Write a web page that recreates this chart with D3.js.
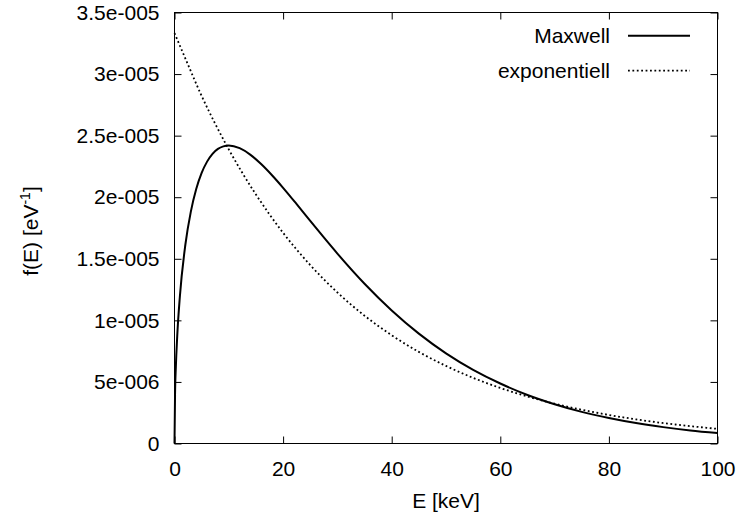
<!DOCTYPE html>
<html><head><meta charset="utf-8">
<script src="https://cdn.jsdelivr.net/npm/d3@7"></script>
<style>
body{margin:0;background:#fff;}
text{font-family:"Liberation Sans",Arial,Helvetica,sans-serif;}
</style>
</head><body>
<svg id="chart" width="736" height="517"></svg>
<script>
// Energy (keV) samples
const maxwellE = [0,0.1,0.25,0.5,1,2,3,4,5,6,7,8,9,10,12,14,16,18,20,22.5,25,27.5,30,35,40,45,50,55,60,65,70,75,80,85,90,95,100];
const maxwellF = [0,0.397e-5,0.623e-5,0.870e-5,1.200e-5,1.614e-5,1.881e-5,2.066e-5,2.197e-5,2.289e-5,2.352e-5,2.392e-5,2.413e-5,2.420e-5,2.398e-5,2.344e-5,2.267e-5,2.176e-5,2.076e-5,1.943e-5,1.807e-5,1.673e-5,1.542e-5,1.297e-5,1.080e-5,0.892e-5,0.732e-5,0.598e-5,0.487e-5,0.394e-5,0.319e-5,0.257e-5,0.207e-5,0.166e-5,0.133e-5,0.106e-5,0.085e-5];
// Energy (keV) samples
const expE = [0,2.5,5,7.5,10,12.5,15,20,25,30,35,40,45,50,55,60,65,70,75,80,85,90,95,100];
const expF = [3.333e-5,3.075e-5,2.822e-5,2.596e-5,2.388e-5,2.197e-5,2.022e-5,1.711e-5,1.449e-5,1.226e-5,1.038e-5,0.879e-5,0.744e-5,0.630e-5,0.533e-5,0.451e-5,0.382e-5,0.323e-5,0.274e-5,0.232e-5,0.196e-5,0.166e-5,0.141e-5,0.119e-5];

const xTickValues = [0,20,40,60,80,100];
const yTickValues = [0,5e-6,1e-5,1.5e-5,2e-5,2.5e-5,3e-5,3.5e-5];
const yTickLabels = ["0","5e-006","1e-005","1.5e-005","2e-005","2.5e-005","3e-005","3.5e-005"];
const seriesNames = ["Maxwell","exponentiell"];

const L = 174.5, R = 717.5, T = 12.5, B = 443.5;
const svg = d3.select("#chart");
const x = d3.scaleLinear().domain([0,100]).range([L,R]);
const y = d3.scaleLinear().domain([0,3.5e-5]).range([B,T]);

const fs = 21;
function styleAxis(g){
  g.select(".domain").remove();
  g.selectAll(".tick line").attr("stroke","#000").attr("stroke-width",1);
  g.selectAll("text").attr("font-size",fs).attr("fill","#000").attr("font-family","Liberation Sans, Arial, sans-serif");
}
svg.append("g").attr("transform",`translate(0,${B})`)
  .call(d3.axisBottom(x).tickValues(xTickValues).tickSizeInner(-7).tickSizeOuter(0).tickPadding(18).tickFormat(d3.format("d")))
  .call(styleAxis);
svg.append("g").attr("transform",`translate(0,${T})`)
  .call(d3.axisTop(x).tickValues(xTickValues).tickSizeInner(-7).tickSizeOuter(0).tickFormat(""))
  .call(styleAxis);
svg.append("g").attr("transform",`translate(${L},0)`)
  .call(d3.axisLeft(y).tickValues(yTickValues).tickSizeInner(-7).tickSizeOuter(0).tickPadding(15).tickFormat((d,i)=>yTickLabels[i]))
  .call(styleAxis);
svg.append("g").attr("transform",`translate(${R},0)`)
  .call(d3.axisRight(y).tickValues(yTickValues).tickSizeInner(-7).tickSizeOuter(0).tickFormat(""))
  .call(styleAxis);

svg.append("rect").attr("x",L).attr("y",T).attr("width",R-L).attr("height",B-T)
  .attr("fill","none").attr("stroke","#000").attr("stroke-width",1);

const line = d3.line().x(d=>x(d[0])).y(d=>y(d[1])).curve(d3.curveMonotoneX);
const mData = maxwellE.map((e,i)=>[e,maxwellF[i]]);
const eData = expE.map((e,i)=>[e,expF[i]]);

svg.append("path").datum(eData).attr("d",line).attr("fill","none")
  .attr("stroke","#000").attr("stroke-width",1.8).attr("stroke-dasharray","1.8,2.6");
svg.append("path").datum(mData).attr("d",line).attr("fill","none")
  .attr("stroke","#000").attr("stroke-width",2);

// legend
const legY = [35.7, 70.7];
seriesNames.forEach((n,i)=>{
  svg.append("text").attr("x",610).attr("y",legY[i]).attr("dy","0.35em")
    .attr("text-anchor","end").attr("font-size",fs).text(n);
  const l = svg.append("line").attr("x1",628).attr("x2",690).attr("y1",legY[i]).attr("y2",legY[i])
    .attr("stroke","#000");
  if(i===0) l.attr("stroke-width",2);
  else l.attr("stroke-width",1.8).attr("stroke-dasharray","1.8,2.6");
});

// axis titles
svg.append("text").attr("x",(L+R)/2).attr("y",501).attr("dy","0.35em")
  .attr("text-anchor","middle").attr("font-size",fs).text("E [keV]");
const yt = svg.append("text").attr("transform",`translate(38,231) rotate(-90)`)
  .attr("text-anchor","middle").attr("font-size",fs);
yt.append("tspan").text("f(E) [eV");
yt.append("tspan").attr("dy",-8).attr("font-size",14).text("-1");
yt.append("tspan").attr("dy",8).text("]");
</script>
</body></html>
